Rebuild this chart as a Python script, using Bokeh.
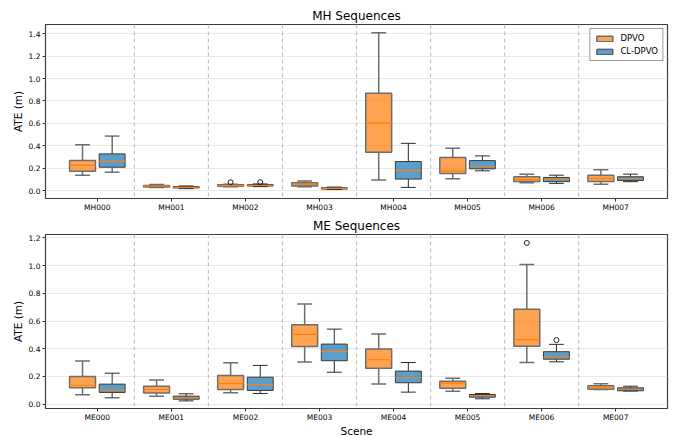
from bokeh.plotting import figure
from bokeh.models import ColumnDataSource, FixedTicker, Span, PrintfTickFormatter, Legend, LegendItem
from bokeh.layouts import column
from bokeh.embed import file_html
from bokeh.resources import INLINE

# ---------------- data ----------------
mh_scenes = ["MH000", "MH001", "MH002", "MH003", "MH004", "MH005", "MH006", "MH007"]
me_scenes = ["ME000", "ME001", "ME002", "ME003", "ME004", "ME005", "ME006", "ME007"]

mh_dpvo_low = [0.138, 0.028, 0.035, 0.035, 0.094, 0.106, 0.071, 0.058]
mh_dpvo_q1 = [0.174, 0.033, 0.040, 0.042, 0.342, 0.153, 0.082, 0.082]
mh_dpvo_med = [0.227, 0.040, 0.045, 0.055, 0.602, 0.177, 0.100, 0.109]
mh_dpvo_q3 = [0.270, 0.047, 0.052, 0.070, 0.868, 0.295, 0.124, 0.138]
mh_dpvo_high = [0.410, 0.055, 0.058, 0.085, 1.409, 0.378, 0.147, 0.186]
mh_dpvo_out_scene = ["MH002"]
mh_dpvo_out_val = [0.075]

mh_cl_low = [0.165, 0.018, 0.036, 0.010, 0.029, 0.177, 0.065, 0.080]
mh_cl_q1 = [0.209, 0.024, 0.041, 0.014, 0.103, 0.195, 0.080, 0.091]
mh_cl_med = [0.262, 0.030, 0.046, 0.020, 0.180, 0.213, 0.103, 0.106]
mh_cl_q3 = [0.328, 0.036, 0.053, 0.026, 0.260, 0.268, 0.118, 0.124]
mh_cl_high = [0.487, 0.042, 0.060, 0.032, 0.422, 0.310, 0.138, 0.147]
mh_cl_out_scene = ["MH002"]
mh_cl_out_val = [0.076]

me_dpvo_low = [0.068, 0.058, 0.082, 0.304, 0.145, 0.094, 0.301, 0.106]
me_dpvo_q1 = [0.118, 0.080, 0.106, 0.417, 0.260, 0.116, 0.419, 0.108]
me_dpvo_med = [0.137, 0.106, 0.150, 0.504, 0.321, 0.152, 0.466, 0.123]
me_dpvo_q3 = [0.200, 0.130, 0.207, 0.574, 0.398, 0.166, 0.685, 0.133]
me_dpvo_high = [0.311, 0.174, 0.299, 0.723, 0.506, 0.188, 1.008, 0.147]
me_dpvo_out_scene = ["ME006"]
me_dpvo_out_val = [1.164]

me_cl_low = [0.046, 0.024, 0.077, 0.231, 0.087, 0.039, 0.306, 0.095]
me_cl_q1 = [0.085, 0.036, 0.099, 0.314, 0.155, 0.051, 0.325, 0.097]
me_cl_med = [0.101, 0.046, 0.142, 0.381, 0.191, 0.061, 0.338, 0.108]
me_cl_q3 = [0.145, 0.058, 0.195, 0.434, 0.239, 0.070, 0.379, 0.118]
me_cl_high = [0.224, 0.075, 0.280, 0.542, 0.301, 0.077, 0.432, 0.130]
me_cl_out_scene = ["ME006"]
me_cl_out_val = [0.463]

mh_yticks = [0.0, 0.2, 0.4, 0.6, 0.8, 1.0, 1.2, 1.4]
me_yticks = [0.0, 0.2, 0.4, 0.6, 0.8, 1.0, 1.2]

FONT = "DejaVu Sans"
ORANGE_FILL = "#ff7f0e"
BLUE_FILL = "#1f77b4"
MEDIAN = "#ff7f0e"


def make_fig(title, scenes, yticks, yrange, groups, show_xlabel, show_legend,
             border_top, border_bottom):
    n = len(scenes)
    p = figure(output_backend="svg", toolbar_location=None,
               frame_width=622, frame_height=174,
               x_range=(-0.7, n - 0.3), y_range=yrange,
               min_border_left=45, min_border_right=11,
               min_border_top=border_top, min_border_bottom=border_bottom,
               title=title)
    p.title.align = "center"
    p.title.text_font = FONT
    p.title.text_font_size = "12px"
    p.title.text_font_style = "normal"
    p.title.text_color = "#000000"
    p.title.standoff = 3
    p.background_fill_color = "white"
    p.border_fill_color = "white"
    p.outline_line_color = "#3c3c3c"
    p.outline_line_width = 1.2
    p.outline_line_alpha = 1.0

    xs = list(range(n))
    p.xaxis.ticker = FixedTicker(ticks=xs)
    p.xaxis.major_label_overrides = {i: s for i, s in enumerate(scenes)}
    p.yaxis.ticker = FixedTicker(ticks=yticks)
    p.yaxis.formatter = PrintfTickFormatter(format="%.1f")
    for ax in (p.xaxis[0], p.yaxis[0]):
        ax.axis_line_color = None
        ax.major_tick_line_color = "#333333"
        ax.major_tick_in = 0
        ax.major_tick_out = 3
        ax.minor_tick_line_color = None
        ax.major_label_text_font = FONT
        ax.major_label_text_font_size = "7.5px"
        ax.major_label_text_color = "#000000"
        ax.major_label_standoff = 2
        ax.axis_label_text_font = FONT
        ax.axis_label_text_font_size = "10.5px"
        ax.axis_label_text_font_style = "normal"
        ax.axis_label_text_color = "#000000"
        ax.axis_label_standoff = 2
    p.xaxis.major_label_standoff = 1
    p.yaxis.axis_label = "ATE (m)"
    if show_xlabel:
        p.xaxis.axis_label = "Scene"
        p.xaxis.axis_label_standoff = 0
    p.xgrid.visible = False
    p.ygrid.ticker = FixedTicker(ticks=yticks)
    p.ygrid.grid_line_color = "#e9e9e9"
    p.ygrid.grid_line_width = 1

    for i in range(n - 1):
        p.add_layout(Span(location=i + 0.5, dimension="height", line_color="#c4c4c4",
                          line_dash="4 3", line_width=1.2))

    items = []
    for (label, offset, fill, edge, wcol, wwidth, low, q1, med, q3, high, osc, oval) in groups:
        xpos = [x + offset for x in xs]
        src = ColumnDataSource(dict(x=xpos, low=low, q1=q1, med=med, q3=q3, high=high,
                                    cl=[x - 0.1 for x in xpos], cr=[x + 0.1 for x in xpos],
                                    ml=[x - 0.175 for x in xpos], mr=[x + 0.175 for x in xpos]))
        p.segment(x0="x", y0="low", x1="x", y1="q1", source=src, line_color=wcol, line_width=wwidth)
        p.segment(x0="x", y0="q3", x1="x", y1="high", source=src, line_color=wcol, line_width=wwidth)
        p.segment(x0="cl", y0="low", x1="cr", y1="low", source=src, line_color=wcol, line_width=wwidth)
        p.segment(x0="cl", y0="high", x1="cr", y1="high", source=src, line_color=wcol, line_width=wwidth)
        r = p.vbar(x="x", bottom="q1", top="q3", width=0.35, source=src,
                   fill_color=fill, fill_alpha=0.72, line_color=edge, line_width=wwidth)
        p.segment(x0="ml", y0="med", x1="mr", y1="med", source=src, line_color=MEDIAN, line_width=1.2)
        ox = [scenes.index(s) + offset for s in osc]
        p.scatter(x=ox, y=oval, marker="circle", size=5, fill_color=None,
                  line_color="#222222", line_width=1)
        items.append(LegendItem(label=label, renderers=[r]))

    if show_legend:
        leg = Legend(items=items, location="top_right")
        leg.label_text_font = FONT
        leg.label_text_font_size = "8.5px"
        leg.label_text_color = "#000000"
        leg.glyph_width = 20
        leg.glyph_height = 7
        leg.label_height = 8
        leg.label_standoff = 6
        leg.spacing = 3
        leg.padding = 4
        leg.margin = 4
        leg.border_line_color = "#3c3c3c"
        leg.border_line_width = 1
        leg.background_fill_alpha = 1.0
        p.add_layout(leg)
    return p


mh_groups = [
    ("DPVO", -0.2, ORANGE_FILL, "#6e6e6e", "#6e6e6e", 1.5,
     mh_dpvo_low, mh_dpvo_q1, mh_dpvo_med, mh_dpvo_q3, mh_dpvo_high, mh_dpvo_out_scene, mh_dpvo_out_val),
    ("CL-DPVO", 0.2, BLUE_FILL, "#3a3a3a", "#2a2a2a", 1.0,
     mh_cl_low, mh_cl_q1, mh_cl_med, mh_cl_q3, mh_cl_high, mh_cl_out_scene, mh_cl_out_val),
]
me_groups = [
    ("DPVO", -0.2, ORANGE_FILL, "#6e6e6e", "#6e6e6e", 1.5,
     me_dpvo_low, me_dpvo_q1, me_dpvo_med, me_dpvo_q3, me_dpvo_high, me_dpvo_out_scene, me_dpvo_out_val),
    ("CL-DPVO", 0.2, BLUE_FILL, "#3a3a3a", "#2a2a2a", 1.0,
     me_cl_low, me_cl_q1, me_cl_med, me_cl_q3, me_cl_high, me_cl_out_scene, me_cl_out_val),
]

p1 = make_fig("MH Sequences", mh_scenes, mh_yticks, (-0.07, 1.482), mh_groups,
              False, True, 24, 14)
p2 = make_fig("ME Sequences", me_scenes, me_yticks, (-0.031, 1.225), me_groups,
              True, False, 20, 22)

layout = column(p1, p2, spacing=0)
open("out.html", "w").write(file_html(layout, INLINE))
